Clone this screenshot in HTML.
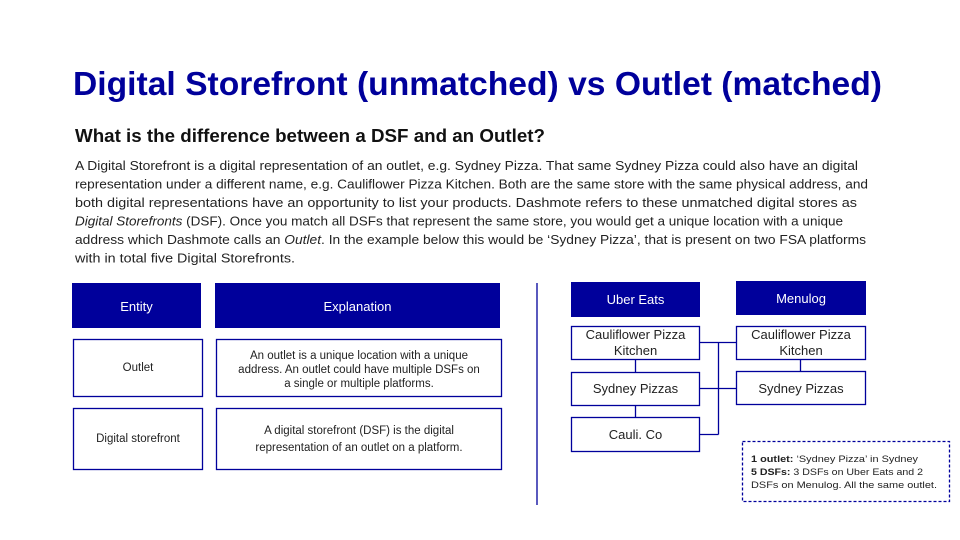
<!DOCTYPE html>
<html><head><meta charset="utf-8"><style>
html,body{margin:0;padding:0;background:#fff;}
svg{display:block;font-family:"Liberation Sans",sans-serif;}
</style></head><body>
<svg width="960" height="540" viewBox="0 0 960 540" xmlns="http://www.w3.org/2000/svg">
<rect width="960" height="540" fill="#fff"/>
<text x="73" y="95" font-size="33" font-weight="bold" fill="#00009b" textLength="809" lengthAdjust="spacingAndGlyphs">Digital Storefront (unmatched) vs Outlet (matched)</text>
<text x="75" y="142" font-size="18" font-weight="bold" fill="#111" textLength="470" lengthAdjust="spacingAndGlyphs">What is the difference between a DSF and an Outlet?</text>
<g font-size="13" fill="#222">
<text x="75" y="170" textLength="783" lengthAdjust="spacingAndGlyphs">A Digital Storefront is a digital representation of an outlet, e.g. Sydney Pizza. That same Sydney Pizza could also have an digital</text>
<text x="75" y="188.5" textLength="793" lengthAdjust="spacingAndGlyphs">representation under a different name, e.g. Cauliflower Pizza Kitchen. Both are the same store with the same physical address, and</text>
<text x="75" y="207" textLength="782" lengthAdjust="spacingAndGlyphs">both digital representations have an opportunity to list your products. Dashmote refers to these unmatched digital stores as</text>
<text x="75" y="225.5" textLength="768" lengthAdjust="spacingAndGlyphs"><tspan font-style="italic">Digital Storefronts</tspan> (DSF). Once you match all DSFs that represent the same store, you would get a unique location with a unique</text>
<text x="75" y="244" textLength="791" lengthAdjust="spacingAndGlyphs">address which Dashmote calls an <tspan font-style="italic">Outlet</tspan>. In the example below this would be ‘Sydney Pizza’, that is present on two FSA platforms</text>
<text x="75" y="262.5" textLength="220" lengthAdjust="spacingAndGlyphs">with in total five Digital Storefronts.</text>
</g>
<!-- table -->
<rect x="72" y="283" width="129" height="45" fill="#00009b"/>
<rect x="215" y="283" width="285" height="45" fill="#00009b"/>
<text x="136.5" y="311" font-size="13" fill="#fff" text-anchor="middle">Entity</text>
<text x="357.5" y="311" font-size="13" fill="#fff" text-anchor="middle">Explanation</text>
<g fill="none" stroke="#00009b" stroke-width="1.3">
<rect x="73.5" y="339.5" width="129" height="57"/>
<rect x="216.5" y="339.5" width="285" height="57"/>
<rect x="73.5" y="408.5" width="129" height="61"/>
<rect x="216.5" y="408.5" width="285" height="61"/>
<line x1="537" y1="283" x2="537" y2="505"/>
</g>
<g font-size="11.5" fill="#222" text-anchor="middle">
<text x="138" y="371">Outlet</text>
<text x="359" y="359">An outlet is a unique location with a unique</text>
<text x="359" y="373">address. An outlet could have multiple DSFs on</text>
<text x="359" y="387">a single or multiple platforms.</text>
<text x="138" y="442">Digital storefront</text>
<text x="359" y="434">A digital storefront (DSF) is the digital</text>
<text x="359" y="451">representation of an outlet on a platform.</text>
</g>
<!-- diagram -->
<rect x="571" y="282" width="129" height="35" fill="#00009b"/>
<rect x="736" y="281" width="130" height="34" fill="#00009b"/>
<text x="635.5" y="304" font-size="13" fill="#fff" text-anchor="middle">Uber Eats</text>
<text x="801" y="303" font-size="13" fill="#fff" text-anchor="middle">Menulog</text>
<g fill="none" stroke="#00009b" stroke-width="1.3">
<rect x="571.5" y="326.5" width="128" height="33"/>
<rect x="571.5" y="372.5" width="128" height="33"/>
<rect x="571.5" y="417.5" width="128" height="34"/>
<rect x="736.5" y="326.5" width="129" height="33"/>
<rect x="736.5" y="371.5" width="129" height="33"/>
<line x1="635.5" y1="360" x2="635.5" y2="372"/>
<line x1="635.5" y1="406" x2="635.5" y2="417"/>
<line x1="800.5" y1="360" x2="800.5" y2="371"/>
<line x1="700" y1="342.5" x2="736" y2="342.5"/>
<line x1="700" y1="388.5" x2="736" y2="388.5"/>
<line x1="700" y1="434.5" x2="718.5" y2="434.5"/>
<line x1="718.5" y1="342.5" x2="718.5" y2="434.5"/>
<rect x="742.5" y="441.5" width="207" height="60" stroke-dasharray="3,2"/>
</g>
<g font-size="13" fill="#222" text-anchor="middle">
<text x="635.5" y="339">Cauliflower Pizza</text>
<text x="635.5" y="355">Kitchen</text>
<text x="635.5" y="393">Sydney Pizzas</text>
<text x="635.5" y="439">Cauli. Co</text>
<text x="801" y="339">Cauliflower Pizza</text>
<text x="801" y="355">Kitchen</text>
<text x="801" y="393">Sydney Pizzas</text>
</g>
<g font-size="9.5" fill="#222">
<text x="751" y="462" textLength="167" lengthAdjust="spacingAndGlyphs"><tspan font-weight="bold">1 outlet:</tspan> ‘Sydney Pizza’ in Sydney</text>
<text x="751" y="475" textLength="172" lengthAdjust="spacingAndGlyphs"><tspan font-weight="bold">5 DSFs:</tspan> 3 DSFs on Uber Eats and 2</text>
<text x="751" y="488" textLength="186" lengthAdjust="spacingAndGlyphs">DSFs on Menulog. All the same outlet.</text>
</g>
</svg>
</body></html>
